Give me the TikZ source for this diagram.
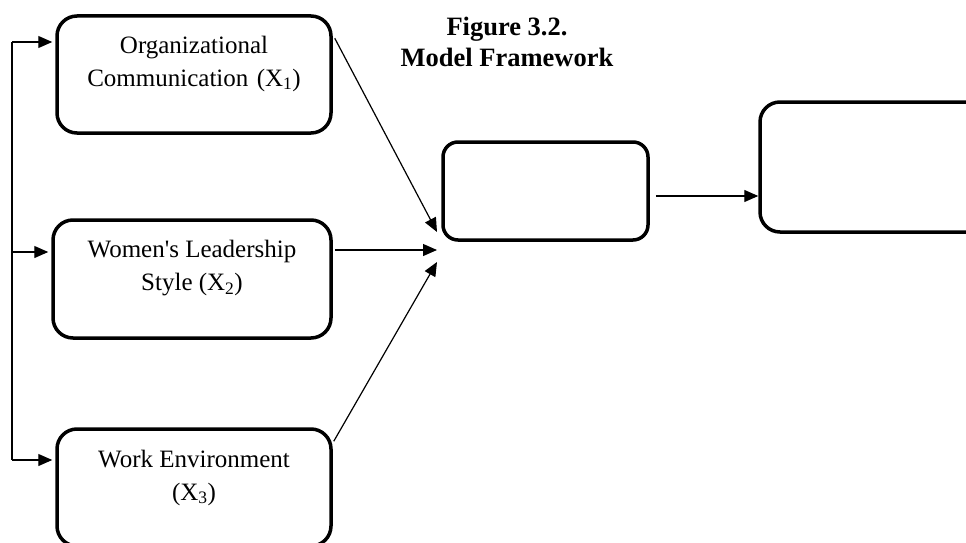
\documentclass[tikz,border=0pt]{standalone}
\usepackage{fontspec}
\setmainfont{Liberation Serif}[Ligatures=TeXOff]
\usetikzlibrary{arrows.meta}

\begin{document}
\begin{tikzpicture}[x=1pt,y=-1pt]
\useasboundingbox (0,0) rectangle (966,543);
\node [align=center,font=\bfseries\fontsize{26.5}{31}\selectfont] (title) at (507,42) {Figure 3.2.\\Model Framework};

\begin{scope}[every node/.style={rectangle,rounded corners=20pt,line width=3.5pt,draw}]
    \node [minimum width=274pt,minimum height=117pt] (comm) at (194,74.5) {};
    \node [minimum width=278pt,minimum height=118pt] (lead) at (192,279) {};
    \node [minimum width=274pt,minimum height=117pt] (env) at (194,487.5) {};
    \node [rounded corners=15pt,minimum width=205pt,minimum height=98pt] (mid) at (545.5,191) {};
    \node [minimum width=240pt,minimum height=130pt] (right) at (880,167) {};
\end{scope}

\begin{scope}[every node/.style={align=center,font=\fontsize{25}{33}\selectfont}]
    \node (commtext) at ([yshift=11pt]comm.center) {Organizational\\Communication\,\,(X\textsubscript{1})};
    \node (leadtext) at ([yshift=11pt]lead.center) {Women's Leadership\\Style (X\textsubscript{2})};
    \node (envtext) at ([yshift=10pt]env.center) {Work Environment\\(X\textsubscript{3})};
\end{scope}

\coordinate (fb1) at (12,42);
\coordinate (fb2) at (12,252);
\coordinate (fb3) at (12,460);
\coordinate (in1) at (437,232);
\coordinate (in2) at (437,250);
\coordinate (in3) at (437,262);

\begin{scope}[>={Triangle[length=14pt,width=12pt]},
              every edge/.style={draw=black,line width=1.2pt}]
    \path [-] (fb1) edge (fb3);
    \path [->] (fb1) edge [shorten >=3pt] (fb1 -| comm.west);
    \path [->] (fb2) edge [shorten >=3pt] (fb2 -| lead.west);
    \path [->] (fb3) edge [shorten >=3pt] (fb3 -| env.west);
    \path [->] ([xshift=2pt,yshift=-24pt]comm.north east) edge (in1);
    \path [->] ([xshift=2pt,yshift=29pt]lead.east) edge (in2);
    \path [->] ([xshift=1pt,yshift=-14pt]env.north east) edge (in3);
    \path [->] ([xshift=6pt,yshift=-5pt]mid.east) edge ([yshift=-29pt]right.west);
\end{scope}
\end{tikzpicture}
\end{document}
